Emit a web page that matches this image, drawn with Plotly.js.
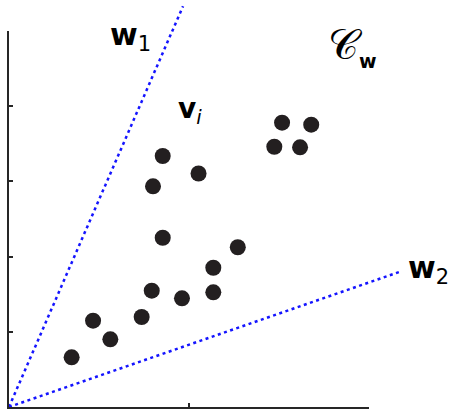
<!DOCTYPE html>
<html>
<head>
<meta charset="utf-8">
<script src="https://cdn.plot.ly/plotly-3.0.1.min.js"></script>
<style>html,body{margin:0;padding:0;background:#fff;}#chart{width:457px;height:412px;}</style>
</head>
<body>
<div id="chart"></div>
<script>
// Data points v_i
var pointX = [0.348, 0.467, 0.563, 0.737, 0.793, 0.961, 0.854, 1.135, 1.135, 1.271, 0.854, 0.800, 1.053, 1.517, 1.679, 1.474, 1.617];
var pointY = [0.661, 1.148, 0.900, 1.197, 1.547, 1.445, 2.251, 1.852, 1.525, 2.124, 3.338, 2.935, 3.105, 3.781, 3.754, 3.461, 3.453];
// Cone generators w1, w2 (from origin)
var w1X = [0, 0.967];
var w1Y = [0, 5.33];
var w2X = [0, 2.167];
var w2Y = [0, 1.795];
// Tick values of the visible axes
var xTicks = [0, 1, 2];
var yTicks = [0, 1, 2, 3, 4, 5];
// Labels
var labelW1 = '<b>w</b><sub>1</sub>';
var labelW2 = '<b>w</b><sub>2</sub>';
var labelV = '<b>v</b><sub><i>i</i></sub>';
var labelC = '𝒞<sub><span style="font-family:DejaVu Sans;font-size:19px;font-weight:bold">w</span></sub>';

var W = 457, H = 412;
var ox = 9, oy = 407, sx = 180, sy = 75.2;
function dx(px){ return (px - ox) / sx; }
function dy(py){ return (oy - py) / sy; }

var blue = '#1414ff';
var dark = '#262626';
var traces = [
  {x: w1X, y: w1Y, mode: 'lines', line: {color: blue, width: 2.5, dash: '3px,3.5px'}, hoverinfo: 'skip'},
  {x: w2X, y: w2Y, mode: 'lines', line: {color: blue, width: 2.5, dash: '3px,3.5px'}, hoverinfo: 'skip'},
  {x: pointX, y: pointY, mode: 'markers', marker: {color: '#231f20', size: 16, line: {width: 0}}, cliponaxis: false},
  {x: [null], y: [null], xaxis: 'x2', yaxis: 'y2', mode: 'markers', hoverinfo: 'skip'}
];

var hidden = {showline: false, showgrid: false, zeroline: false, showticklabels: false, ticks: '', fixedrange: true};
var layout = {
  width: W, height: H,
  margin: {l: 0, r: 0, t: 0, b: 0, pad: 0},
  paper_bgcolor: '#ffffff',
  plot_bgcolor: 'rgba(0,0,0,0)',
  showlegend: false,
  xaxis: Object.assign({domain: [0, 1], range: [dx(0), dx(W)]}, hidden),
  yaxis: Object.assign({domain: [0, 1], range: [dy(H), dy(0)]}, hidden),
  xaxis2: {domain: [ox / W, (ox + 2 * sx) / W], range: [0, 2], anchor: 'y2',
           showline: true, linecolor: dark, linewidth: 2, ticks: 'inside', ticklen: 4, tickwidth: 2, tickcolor: dark,
           tickmode: 'array', tickvals: xTicks, showticklabels: false, showgrid: false, zeroline: false, fixedrange: true},
  yaxis2: {domain: [(H - oy) / H, (H - oy + 5 * sy) / H], range: [0, 5], anchor: 'x2',
           showline: true, linecolor: dark, linewidth: 2, ticks: 'inside', ticklen: 4, tickwidth: 2, tickcolor: dark,
           tickmode: 'array', tickvals: yTicks, showticklabels: false, showgrid: false, zeroline: false, fixedrange: true},
  annotations: [
    {text: labelW1, x: dx(108), y: dy(36), xref: 'x', yref: 'y', xanchor: 'left', yanchor: 'middle', showarrow: false,
     font: {family: 'DejaVu Sans', size: 30, color: '#000'}},
    {text: labelV, x: dx(176), y: dy(110), xref: 'x', yref: 'y', xanchor: 'left', yanchor: 'middle', showarrow: false,
     font: {family: 'DejaVu Sans', size: 28, color: '#000'}},
    {text: labelC, x: dx(326), y: dy(46), xref: 'x', yref: 'y', xanchor: 'left', yanchor: 'middle', showarrow: false,
     font: {family: 'DejaVu Serif', size: 42, color: '#000'}},
    {text: labelW2, x: dx(406), y: dy(269), xref: 'x', yref: 'y', xanchor: 'left', yanchor: 'middle', showarrow: false,
     font: {family: 'DejaVu Sans', size: 30, color: '#000'}}
  ]
};
Plotly.newPlot('chart', traces, layout, {staticPlot: true, displayModeBar: false});
</script>
</body>
</html>
